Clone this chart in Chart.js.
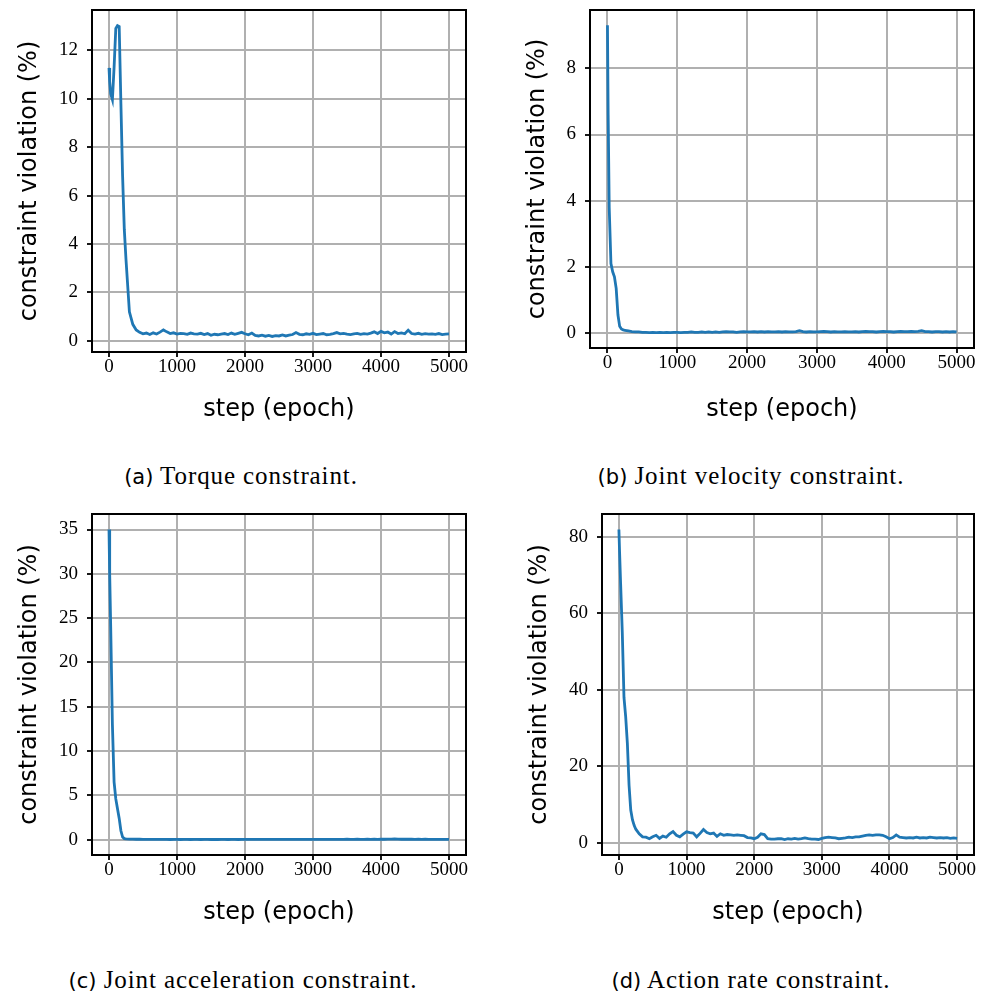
<!DOCTYPE html>
<html lang="en">
<head>
<meta charset="UTF-8">
<title>Constraint violation during training</title>
<script src="https://cdn.jsdelivr.net/npm/chart.js"></script>
<style>
  body { margin: 0; background: #fff; }
  #page { position: relative; width: 985px; height: 999px; overflow: hidden; }
  .panel { position: absolute; width: 490px; height: 440px; }
  .caption {
    position: absolute; transform: translateX(-50%); white-space: nowrap;
    font-family: "Liberation Serif", serif; font-size: 25px; line-height: 28px;
    letter-spacing: 0.9px; color: #000;
  }
  .caption .tag { font-family: "DejaVu Sans", sans-serif; font-size: 21px; letter-spacing: 0; }
</style>
</head>
<body>
<div id="page">
  <div class="panel" style="left:0;top:0"><canvas id="chartA" width="490" height="440"></canvas></div>
  <div class="panel" style="left:495px;top:0"><canvas id="chartB" width="490" height="440"></canvas></div>
  <div class="panel" style="left:0;top:500px"><canvas id="chartC" width="490" height="440"></canvas></div>
  <div class="panel" style="left:495px;top:500px"><canvas id="chartD" width="490" height="440"></canvas></div>

  <div class="caption" style="left:241px;top:462px"><span class="tag">(a)</span> Torque constraint.</div>
  <div class="caption" style="left:751px;top:462px"><span class="tag">(b)</span> Joint velocity constraint.</div>
  <div class="caption" style="left:243px;top:966px"><span class="tag">(c)</span> Joint acceleration constraint.</div>
  <div class="caption" style="left:751px;top:966px"><span class="tag">(d)</span> Action rate constraint.</div>
</div>

<script>
// training step (epoch)
const steps = [0, 10, 25, 50, 75, 100, 125, 150, 175, 200, 225, 250,
  300, 350, 400, 450, 500, 550, 600, 650, 700, 750,
  800, 850, 900, 950, 1000, 1050, 1100, 1150, 1200, 1250,
  1300, 1350, 1400, 1450, 1500, 1550, 1600, 1650, 1700, 1750,
  1800, 1850, 1900, 1950, 2000, 2050, 2100, 2150, 2200, 2250,
  2300, 2350, 2400, 2450, 2500, 2550, 2600, 2650, 2700, 2750,
  2800, 2850, 2900, 2950, 3000, 3050, 3100, 3150, 3200, 3250,
  3300, 3350, 3400, 3450, 3500, 3550, 3600, 3650, 3700, 3750,
  3800, 3850, 3900, 3950, 4000, 4050, 4100, 4150, 4200, 4250,
  4300, 4350, 4400, 4450, 4500, 4550, 4600, 4650, 4700, 4750,
  4800, 4850, 4900, 4950, 5000];

// constraint violation (%) per constraint
const torque = [11.27, 10.7, 10.2, 9.96, 11.3, 12.9, 13.02, 12.98, 9.8, 6.8, 4.6, 3.35,
  1.2, 0.68, 0.45, 0.35, 0.29, 0.32, 0.26, 0.33, 0.28, 0.36,
  0.45, 0.37, 0.3, 0.33, 0.28, 0.31, 0.3, 0.27, 0.32, 0.29,
  0.28, 0.31, 0.26, 0.3, 0.23, 0.27, 0.25, 0.28, 0.3, 0.26,
  0.32, 0.27, 0.31, 0.35, 0.29, 0.25, 0.32, 0.22, 0.2, 0.23,
  0.19, 0.22, 0.18, 0.21, 0.2, 0.24, 0.2, 0.23, 0.26, 0.34,
  0.27, 0.25, 0.29, 0.27, 0.31, 0.26, 0.28, 0.3, 0.25, 0.27,
  0.3, 0.34, 0.29, 0.31, 0.28, 0.26, 0.29, 0.31, 0.27, 0.3,
  0.28, 0.32, 0.37, 0.3, 0.39, 0.33, 0.36, 0.28, 0.38, 0.3,
  0.33, 0.29, 0.44, 0.3, 0.28, 0.31, 0.27, 0.3, 0.28, 0.29,
  0.27, 0.3, 0.26, 0.28, 0.29];

const jointVelocity = [9.3, 6.6, 3.8, 2.1, 1.85, 1.7, 1.35, 0.55, 0.2, 0.12, 0.09, 0.08,
  0.06, 0.04, 0.03, 0.03, 0.02, 0.02, 0.01, 0.02, 0.01, 0.02,
  0.01, 0.02, 0.01, 0.02, 0.02, 0.01, 0.02, 0.02, 0.03, 0.02,
  0.02, 0.03, 0.02, 0.03, 0.02, 0.03, 0.02, 0.03, 0.04, 0.03,
  0.03, 0.02, 0.03, 0.04, 0.03, 0.03, 0.04, 0.03, 0.04, 0.03,
  0.04, 0.03, 0.03, 0.04, 0.03, 0.04, 0.03, 0.03, 0.04, 0.07,
  0.04, 0.03, 0.04, 0.03, 0.03, 0.04, 0.05, 0.04, 0.03, 0.04,
  0.03, 0.03, 0.04, 0.03, 0.03, 0.04, 0.03, 0.04, 0.05, 0.04,
  0.04, 0.03, 0.04, 0.05, 0.04, 0.04, 0.03, 0.04, 0.05, 0.04,
  0.04, 0.05, 0.04, 0.05, 0.07, 0.04, 0.04, 0.03, 0.04, 0.04,
  0.03, 0.04, 0.03, 0.04, 0.03];

const jointAcceleration = [35, 30, 24, 13, 6.5, 4.6, 3.5, 2.4, 1.0, 0.3, 0.12, 0.08,
  0.07, 0.06, 0.05, 0.05, 0.04, 0.04, 0.04, 0.03, 0.03, 0.03,
  0.03, 0.03, 0.02, 0.03, 0.03, 0.02, 0.03, 0.03, 0.02, 0.03,
  0.03, 0.02, 0.03, 0.03, 0.02, 0.03, 0.02, 0.03, 0.03, 0.02,
  0.03, 0.03, 0.02, 0.03, 0.03, 0.04, 0.03, 0.03, 0.03, 0.04,
  0.03, 0.04, 0.03, 0.03, 0.04, 0.03, 0.03, 0.04, 0.03, 0.04,
  0.03, 0.04, 0.04, 0.03, 0.04, 0.03, 0.04, 0.04, 0.03, 0.04,
  0.04, 0.03, 0.04, 0.04, 0.05, 0.04, 0.04, 0.05, 0.04, 0.04,
  0.05, 0.04, 0.05, 0.04, 0.05, 0.05, 0.06, 0.07, 0.08, 0.06,
  0.05, 0.06, 0.05, 0.05, 0.04, 0.05, 0.04, 0.05, 0.04, 0.04,
  0.03, 0.04, 0.03, 0.03, 0.03];

const actionRate = [82, 76, 68, 55, 38, 33, 26, 15, 8.5, 6.0, 4.5, 3.5,
  2.3, 1.5, 1.4, 1.0, 1.5, 1.9, 1.1, 1.7, 1.4, 2.3,
  2.9, 1.9, 1.5, 2.2, 2.8, 2.6, 2.5, 1.5, 2.4, 3.4,
  2.6, 2.3, 2.5, 1.6, 2.3, 1.9, 2.1, 2.0, 1.9, 2.0,
  1.9, 1.8, 1.3, 1.2, 1.0, 1.4, 2.3, 2.1, 1.0, 0.9,
  0.9, 1.0, 1.0, 0.8, 1.0, 0.9, 1.1, 0.9, 1.0, 1.2,
  1.0, 0.9, 0.9, 0.8, 1.1, 1.3, 1.4, 1.3, 1.2, 1.0,
  1.1, 1.2, 1.4, 1.3, 1.5, 1.5, 1.7, 1.9, 2.0, 1.9,
  2.0, 2.0, 1.9, 1.5, 1.0, 1.3, 2.0, 1.4, 1.3, 1.2,
  1.3, 1.2, 1.4, 1.2, 1.3, 1.2, 1.4, 1.3, 1.2, 1.3,
  1.2, 1.3, 1.1, 1.2, 1.1];

// tick labels
const xTicks = [0, 1000, 2000, 3000, 4000, 5000];
const yTicksA = [0, 2, 4, 6, 8, 10, 12];
const yTicksB = [0, 2, 4, 6, 8];
const yTicksC = [0, 5, 10, 15, 20, 25, 30, 35];
const yTicksD = [0, 20, 40, 60, 80];

const W = 490, H = 440;
const TICK_FONT = { family: 'Liberation Serif', size: 19 };
const TITLE_FONT = { family: 'DejaVu Sans', size: 24 };

// black box around the axes, like matplotlib spines
const frame = {
  id: 'frame',
  afterDraw(chart) {
    const { ctx, chartArea: a } = chart;
    ctx.save();
    ctx.strokeStyle = '#000';
    ctx.lineWidth = 2;
    ctx.strokeRect(a.left, a.top, a.right - a.left, a.bottom - a.top);
    ctx.restore();
  }
};

// 5% margin like matplotlib autoscale
function padRange(arr) {
  const lo = Math.min(...arr), hi = Math.max(...arr);
  const m = (hi - lo) * 0.05;
  return [lo - m, hi + m];
}

// don't let tick labels push the plot area around
function noLabelPadding(s) {
  s.paddingLeft = 0; s.paddingRight = 0; s.paddingTop = 0; s.paddingBottom = 0;
}

// box: plot area (left, top, right, bottom) in canvas px, plus title centres
function makeChart(id, values, yTicks, box) {
  const [xmin, xmax] = padRange(steps);
  const [ymin, ymax] = padRange(values);
  const yw = box.left;               // y axis band fills everything left of the plot
  const xh = box.titleY + 14.4 + 6 - box.bottom;
  const grid = { color: '#b0b0b0', lineWidth: 2, tickColor: '#000', tickLength: 5, tickWidth: 1.8 };

  return new Chart(document.getElementById(id), {
    type: 'line',
    data: {
      datasets: [{
        data: steps.map((s, i) => ({ x: s, y: values[i] })),
        borderColor: '#1f77b4',
        borderWidth: 2.8,
        pointRadius: 0,
        tension: 0,
        fill: false
      }]
    },
    options: {
      responsive: false,
      animation: false,
      events: [],
      layout: { padding: { left: 0, top: box.top, right: W - box.right, bottom: H - box.bottom - xh } },
      plugins: { legend: { display: false }, tooltip: { enabled: false } },
      scales: {
        x: {
          type: 'linear', min: xmin, max: xmax,
          afterBuildTicks: s => { s.ticks = xTicks.map(v => ({ value: v })); },
          afterFit: s => { s.height = xh; noLabelPadding(s); },
          grid: grid,
          border: { display: false },
          ticks: { font: TICK_FONT, color: '#000', padding: -1, autoSkip: false, maxRotation: 0, callback: v => String(v) },
          title: { display: true, text: 'step (epoch)', font: TITLE_FONT, color: '#000', padding: { top: 0, bottom: 6 } }
        },
        y: {
          type: 'linear', min: ymin, max: ymax,
          afterBuildTicks: s => { s.ticks = yTicks.map(v => ({ value: v })); },
          afterFit: s => { s.width = yw; noLabelPadding(s); },
          grid: grid,
          border: { display: false },
          ticks: { font: TICK_FONT, color: '#000', padding: 9, autoSkip: false, callback: v => String(v) },
          title: { display: true, text: 'constraint violation (%)', font: TITLE_FONT, color: '#000', padding: { top: box.titleX - 14.4, bottom: 0 } }
        }
      }
    },
    plugins: [frame]
  });
}

makeChart('chartA', torque, yTicksA, { left: 92, top: 10, right: 466, bottom: 352, titleX: 30, titleY: 410 });
makeChart('chartB', jointVelocity, yTicksB, { left: 95, top: 10, right: 479, bottom: 348, titleX: 43, titleY: 410 });
makeChart('chartC', jointAcceleration, yTicksC, { left: 92, top: 14, right: 466, bottom: 355, titleX: 30, titleY: 413 });
makeChart('chartD', actionRate, yTicksD, { left: 107, top: 14, right: 479, bottom: 355, titleX: 45, titleY: 413 });
</script>
</body>
</html>
